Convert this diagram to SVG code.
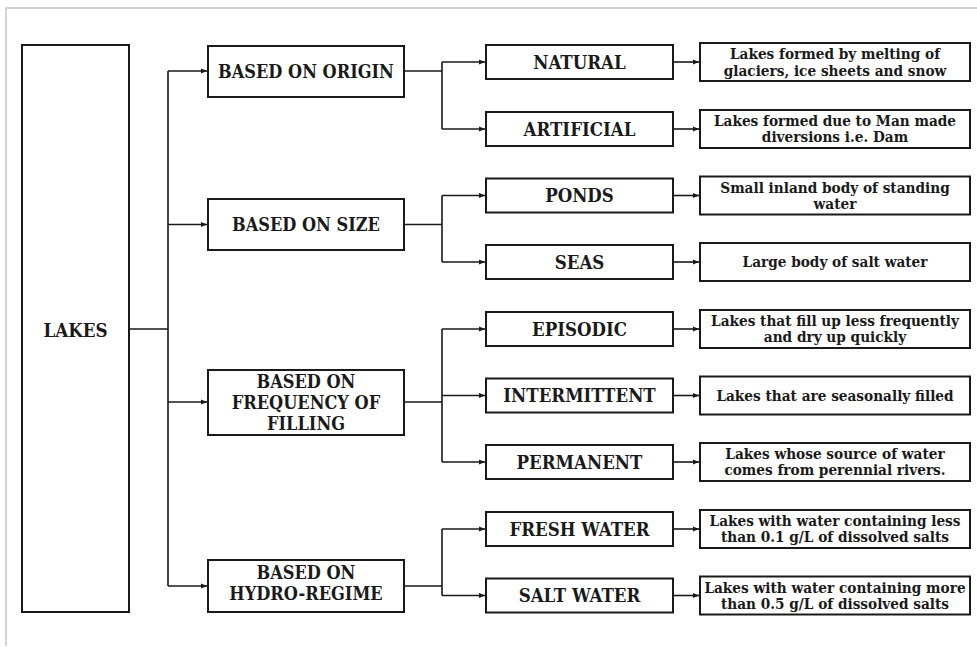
<svg xmlns="http://www.w3.org/2000/svg" width="977" height="647" viewBox="0 0 977 647">
<defs>
<style>
.box{fill:#fff;stroke:#1a1a1a;stroke-width:2}
.t{font-family:"DejaVu Serif Condensed","DejaVu Serif","Liberation Serif",serif;font-stretch:condensed;font-weight:bold;fill:#1a1a1a;text-anchor:middle}
.l1{font-size:18px}
.l0{font-size:18.6px}
.l2{font-size:18.5px}
.l3{font-size:15.2px}
.c{fill:none;stroke:#1a1a1a;stroke-width:1.6}
</style>
<marker id="ah" viewBox="0 0 10 10" refX="10" refY="5" markerWidth="7" markerHeight="6" markerUnits="userSpaceOnUse" orient="auto">
<path d="M0,1 L10,5 L0,9 z" fill="#1a1a1a"/>
</marker>
</defs>
<rect width="977" height="647" fill="#fff"/>
<path d="M6,646 V8 H977" fill="none" stroke="#c8c8c8" stroke-width="1.5"/>

<g id="connectors">
<path class="c" d="M129,329 H168 M168,71 V586"/>
<path class="c" d="M168,71 H207" marker-end="url(#ah)"/>
<path class="c" d="M168,224.5 H207" marker-end="url(#ah)"/>
<path class="c" d="M168,402 H207" marker-end="url(#ah)"/>
<path class="c" d="M168,586 H207" marker-end="url(#ah)"/>
<path class="c" d="M404,71 H442 M442,62 V129"/>
<path class="c" d="M442,62 H485" marker-end="url(#ah)"/>
<path class="c" d="M442,129 H485" marker-end="url(#ah)"/>
<path class="c" d="M404,224.5 H442 M442,195.5 V262"/>
<path class="c" d="M442,195.5 H485" marker-end="url(#ah)"/>
<path class="c" d="M442,262 H485" marker-end="url(#ah)"/>
<path class="c" d="M404,402 H442 M442,329 V462"/>
<path class="c" d="M442,329 H485" marker-end="url(#ah)"/>
<path class="c" d="M442,395.5 H485" marker-end="url(#ah)"/>
<path class="c" d="M442,462 H485" marker-end="url(#ah)"/>
<path class="c" d="M404,586 H442 M442,529 V595.5"/>
<path class="c" d="M442,529 H485" marker-end="url(#ah)"/>
<path class="c" d="M442,595.5 H485" marker-end="url(#ah)"/>
<path class="c" d="M673,62 H699" marker-end="url(#ah)"/>
<path class="c" d="M673,129 H699" marker-end="url(#ah)"/>
<path class="c" d="M673,195.5 H699" marker-end="url(#ah)"/>
<path class="c" d="M673,262 H699" marker-end="url(#ah)"/>
<path class="c" d="M673,329 H699" marker-end="url(#ah)"/>
<path class="c" d="M673,395.5 H699" marker-end="url(#ah)"/>
<path class="c" d="M673,462 H699" marker-end="url(#ah)"/>
<path class="c" d="M673,529 H699" marker-end="url(#ah)"/>
<path class="c" d="M673,595.5 H699" marker-end="url(#ah)"/>
</g>

<g id="lakes"><rect class="box" x="22" y="45" width="107" height="567"/><text class="t l0" x="75.5" y="336.5">LAKES</text></g>

<g id="origin"><rect class="box" x="208" y="46" width="196" height="51"/><text class="t l1" x="306" y="77.5">BASED ON ORIGIN</text></g>
<g id="size"><rect class="box" x="208" y="199" width="196" height="51"/><text class="t l1" x="306" y="231">BASED ON SIZE</text></g>
<g id="frequency"><rect class="box" x="208" y="370" width="196" height="65"/><text class="t l1" x="306" y="387.5">BASED ON</text><text class="t l1" x="306" y="408.5">FREQUENCY OF</text><text class="t l1" x="306" y="429.5">FILLING</text></g>
<g id="hydro"><rect class="box" x="208" y="560" width="196" height="52"/><text class="t l1" x="306" y="578.5">BASED ON</text><text class="t l1" x="306" y="599.5">HYDRO-REGIME</text></g>

<g id="natural"><rect class="box" x="486" y="45" width="187" height="34"/><text class="t l2" x="579.5" y="68.7">NATURAL</text></g>
<g id="artificial"><rect class="box" x="486" y="112" width="187" height="34"/><text class="t l2" x="579.5" y="135.7">ARTIFICIAL</text></g>
<g id="ponds"><rect class="box" x="486" y="178.5" width="187" height="34"/><text class="t l2" x="579.5" y="202.2">PONDS</text></g>
<g id="seas"><rect class="box" x="486" y="245" width="187" height="34"/><text class="t l2" x="579.5" y="268.7">SEAS</text></g>
<g id="episodic"><rect class="box" x="486" y="312" width="187" height="34"/><text class="t l2" x="579.5" y="335.7">EPISODIC</text></g>
<g id="intermittent"><rect class="box" x="486" y="378.5" width="187" height="34"/><text class="t l2" x="579.5" y="402.2">INTERMITTENT</text></g>
<g id="permanent"><rect class="box" x="486" y="445" width="187" height="34"/><text class="t l2" x="579.5" y="468.7">PERMANENT</text></g>
<g id="fresh"><rect class="box" x="486" y="512" width="187" height="34"/><text class="t l2" x="579.5" y="535.7">FRESH WATER</text></g>
<g id="salt"><rect class="box" x="486" y="578.5" width="187" height="34"/><text class="t l2" x="579.5" y="602.2">SALT WATER</text></g>

<g id="d-natural"><rect class="box" x="700" y="43" width="270" height="38"/><text class="t l3" x="835" y="59.3">Lakes formed by melting of</text><text class="t l3" x="835" y="75.5">glaciers, ice sheets and snow</text></g>
<g id="d-artificial"><rect class="box" x="700" y="110" width="270" height="38"/><text class="t l3" x="835" y="125.7">Lakes formed due to Man made</text><text class="t l3" x="835" y="141.9">diversions i.e. Dam</text></g>
<g id="d-ponds"><rect class="box" x="700" y="176.5" width="270" height="38"/><text class="t l3" x="835" y="192.5">Small inland body of standing</text><text class="t l3" x="835" y="208.7">water</text></g>
<g id="d-seas"><rect class="box" x="700" y="243" width="270" height="38"/><text class="t l3" x="835" y="267">Large body of salt water</text></g>
<g id="d-episodic"><rect class="box" x="700" y="310" width="270" height="38"/><text class="t l3" x="835" y="325.7">Lakes that fill up less frequently</text><text class="t l3" x="835" y="341.9">and dry up quickly</text></g>
<g id="d-intermittent"><rect class="box" x="700" y="376.5" width="270" height="38"/><text class="t l3" x="835" y="400.5">Lakes that are seasonally filled</text></g>
<g id="d-permanent"><rect class="box" x="700" y="443" width="270" height="38"/><text class="t l3" x="835" y="458.7">Lakes whose source of water</text><text class="t l3" x="835" y="474.9">comes from perennial rivers.</text></g>
<g id="d-fresh"><rect class="box" x="700" y="510" width="270" height="38"/><text class="t l3" x="835" y="525.7">Lakes with water containing less</text><text class="t l3" x="835" y="541.9">than 0.1 g/L of dissolved salts</text></g>
<g id="d-salt"><rect class="box" x="700" y="576.5" width="270" height="38"/><text class="t l3" x="835" y="592.5">Lakes with water containing more</text><text class="t l3" x="835" y="608.7">than 0.5 g/L of dissolved salts</text></g>
</svg>
